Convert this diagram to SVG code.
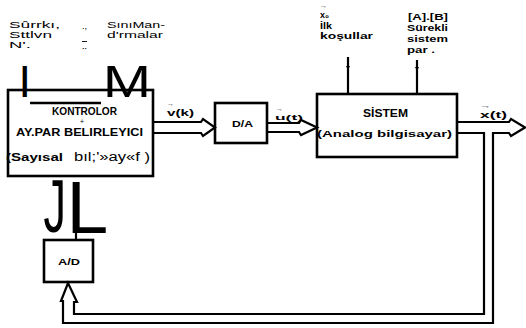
<svg xmlns="http://www.w3.org/2000/svg" width="526" height="328" viewBox="0 0 526 328">
<style>
.box{fill:none;stroke:#000;stroke-width:2.6}
.ln{fill:none;stroke:#000;stroke-width:2.2;stroke-linejoin:miter}
.t{font-family:"Liberation Sans",Arial,sans-serif;fill:#000}
.b{font-weight:bold}
.s10{font-size:9px}
.s9{font-size:9px}
.vec{font-family:"Liberation Sans",Arial,sans-serif;font-weight:bold;font-size:6px;fill:#000}
.big{font-family:"Liberation Sans",Arial,sans-serif;fill:#000}
</style>
<defs>
<marker id="tick" viewBox="0 0 6 6" refX="3" refY="3" markerWidth="4" markerHeight="4" markerUnits="userSpaceOnUse" orient="auto">
<path d="M0,0 L6,3 L0,6 Z" fill="#000"/>
</marker>
</defs>
<rect width="526" height="328" fill="#fff"/>

<g id="notes-top-left">
<text class="t s10" x="9" y="27.5" textLength="51" lengthAdjust="spacingAndGlyphs">Sûrrkı,</text>
<text class="t s10" x="9" y="37.5" textLength="43" lengthAdjust="spacingAndGlyphs">Sttlvn</text>
<text class="t s10" x="9" y="47.5" textLength="22" lengthAdjust="spacingAndGlyphs">N'.</text>
<text class="t s10" x="82" y="29">.,</text>
<text class="t s10" x="82" y="49" style="text-decoration:overline">‥</text>
<text class="t s10" x="107" y="27.5" textLength="58" lengthAdjust="spacingAndGlyphs">SınıMan-</text>
<text class="t s10" x="107" y="37.5" textLength="56" lengthAdjust="spacingAndGlyphs">d'rmalar</text>
</g>

<g id="scan-letters">
<text class="big" font-size="45" transform="translate(18.5,97)">I</text>
<text class="big" font-size="45" transform="translate(102.7,97) scale(1.29,1)">M</text>
<text class="big" font-size="75" transform="translate(43.5,232) scale(0.6,1)">J</text>
<text class="big" font-size="75" transform="translate(66.5,233)">L</text>
</g>

<g id="connectors">
<path class="ln" d="M153,122 H201 L203,119 L215,127.5 L203,136 L201,133 H153"/>
<path class="ln" d="M267,123 H299 L301,120 L317,127.5 L301,135 L299,132 H267"/>
<path class="ln" d="M457,122 H509 L511,119 L525,127.5 L511,136 L509,133 H493 V323 H63 V301 L61,301 L68,283 L77,302 L74,302 V314 H484 V133 H457"/>
<path class="ln" d="M348,57 V68 V94" marker-mid="url(#tick)"/>
<path class="ln" d="M417,60 V69 V94" marker-mid="url(#tick)"/>
<path class="ln" d="M76,231 V240"/>
</g>

<g id="controller">
<rect class="box" x="8" y="90" width="145" height="86"/>
<line x1="30" y1="103" x2="101" y2="103" stroke="#000" stroke-width="2.4"/>
<text class="t b" font-size="10" x="52" y="115" textLength="65" lengthAdjust="spacingAndGlyphs">KONTROLOR</text>
<text class="t" font-size="7" x="80" y="124">+</text>
<text class="t b" font-size="10" x="16" y="136" textLength="127" lengthAdjust="spacingAndGlyphs">AY.PAR BELIRLEYICI</text>
<text class="t b" font-size="10" x="6" y="161" textLength="57" lengthAdjust="spacingAndGlyphs">(Sayısal</text>
<text class="t" font-size="12" x="74" y="161" textLength="76" lengthAdjust="spacingAndGlyphs">bıl;'»ay«f )</text>
</g>

<g id="da">
<rect class="box" x="215" y="103" width="52" height="40"/>
<text class="t b" font-size="8.5" x="232" y="127" textLength="21" lengthAdjust="spacingAndGlyphs">D/A</text>
</g>

<g id="system">
<rect class="box" x="317" y="94" width="140" height="63"/>
<text class="t b" font-size="10" x="363" y="117" textLength="45" lengthAdjust="spacingAndGlyphs">SİSTEM</text>
<text class="t b" font-size="9" x="317" y="137" textLength="135" lengthAdjust="spacingAndGlyphs">(Analog bilgisayar)</text>
</g>

<g id="ad">
<rect class="box" x="44" y="240" width="49" height="42"/>
<text class="t b" font-size="8.5" x="58" y="265" textLength="22" lengthAdjust="spacingAndGlyphs">A/D</text>
</g>

<g id="labels">
<text class="vec" x="167" y="106" textLength="7" lengthAdjust="spacingAndGlyphs">→</text>
<text class="t b s9" x="167" y="116" textLength="27" lengthAdjust="spacingAndGlyphs">v(k)</text>
<text class="vec" x="276" y="111" textLength="7" lengthAdjust="spacingAndGlyphs">→</text>
<text class="t b" font-size="8" x="275" y="120" textLength="28" lengthAdjust="spacingAndGlyphs">u(t)</text>
<text class="vec" x="480" y="108" textLength="11" lengthAdjust="spacingAndGlyphs">→</text>
<text class="t b s9" x="480" y="118" textLength="27" lengthAdjust="spacingAndGlyphs">x(t)</text>
<text class="vec" x="320" y="8" textLength="7" lengthAdjust="spacingAndGlyphs">→</text>
<text class="t b s9" x="320" y="18" textLength="9" lengthAdjust="spacingAndGlyphs">x₀</text>
<text class="t b s9" x="320" y="28.5" textLength="12" lengthAdjust="spacingAndGlyphs">İlk</text>
<text class="t b s9" x="320" y="39" textLength="53" lengthAdjust="spacingAndGlyphs">koşullar</text>
<text class="t b s9" x="408" y="20" textLength="40" lengthAdjust="spacingAndGlyphs">[A].[B]</text>
<text class="t b s9" x="407" y="31" textLength="41" lengthAdjust="spacingAndGlyphs">Sürekli</text>
<text class="t b s9" x="407" y="42" textLength="41" lengthAdjust="spacingAndGlyphs">sistem</text>
<text class="t b s9" x="407" y="53" textLength="28" lengthAdjust="spacingAndGlyphs">par .</text>
</g>
</svg>
